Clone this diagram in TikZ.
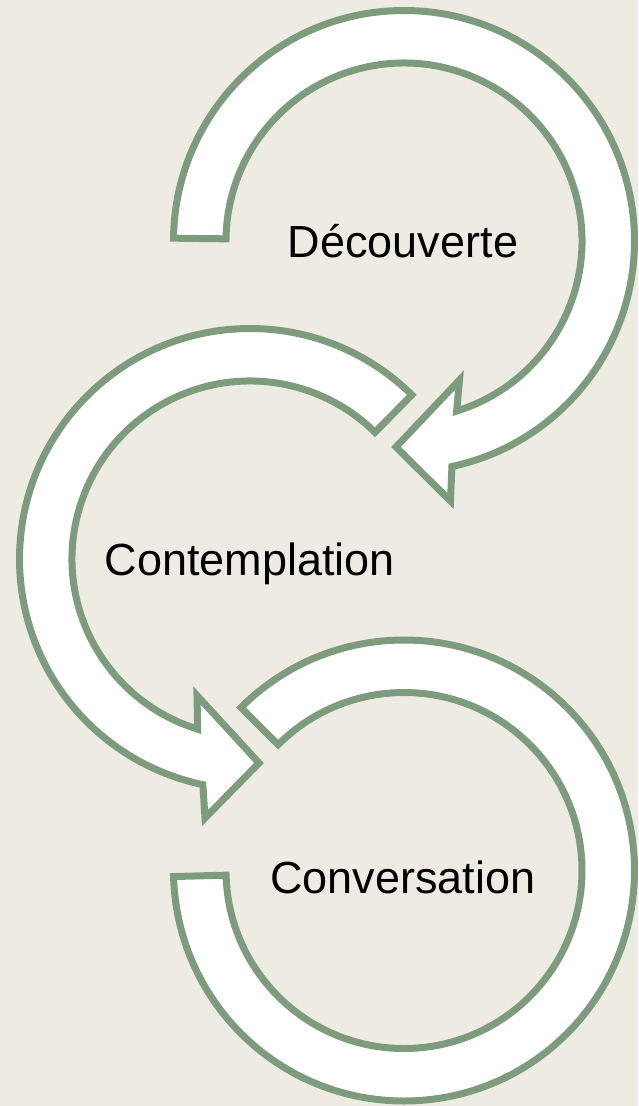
\documentclass[tikz,border=0pt]{standalone}
\usepackage{fontspec}
\setmainfont{Liberation Sans}
\usetikzlibrary{calc}
\definecolor{bgbeige}{RGB}{238,236,226}
\definecolor{ringgreen}{RGB}{124,156,125}
\begin{document}
\begin{tikzpicture}[x=1pt,y=1pt,yscale=-1,
  ringshape/.style={draw=ringgreen, fill=white, line width=7pt, line join=miter, miter limit=10},
  steplabel/.style={anchor=base, inner sep=0pt, font=\fontsize{45}{54}\selectfont, text=black}]
\fill[bgbeige] (0,0) rectangle (638,1106);
\useasboundingbox (0,0) rectangle (638,1106);
\coordinate (c1) at (404,241);
\coordinate (c2) at (250,559);
\coordinate (c3) at (404,870.5);
% top arrow (clockwise, head pointing left)
\coordinate (t1) at (396,447);
\coordinate (b1a) at (459.5,380);
\coordinate (b1b) at (450.5,501);
\draw[ringshape] ($(c1)+(180.7:230.5)$) arc[start angle=180.7, end angle=438, radius=230.5]
  -- (b1b) -- (t1) -- (b1a) -- ($(c1)+(432.8:178)$)
  arc[start angle=432.8, end angle=180.7, radius=178] -- cycle;
% middle arrow (counter-clockwise, head pointing right)
\coordinate (t2) at (259,763);
\coordinate (b2a) at (197,695.5);
\coordinate (b2b) at (205,818);
\draw[ringshape] ($(c2)+(-45.4:230.5)$) arc[start angle=-45.4, end angle=-258.2, radius=230.5]
  -- (b2b) -- (t2) -- (b2a) -- ($(c2)+(-252.9:178)$)
  arc[start angle=-252.9, end angle=-45.4, radius=178] -- cycle;
% bottom arrow (clockwise, no head)
\draw[ringshape] ($(c3)+(-135:230.5)$) arc[start angle=-135, end angle=178.5, radius=230.5]
  -- ($(c3)+(178.5:178)$) arc[start angle=178.5, end angle=-135, radius=178] -- cycle;
\node[steplabel] (decouverte) at (403,257) {Découverte};
\node[steplabel] (contemplation) at (249.7,575.5) {Contemplation};
\node[steplabel] (conversation) at (403,893) {Conversation};
\end{tikzpicture}
\end{document}
